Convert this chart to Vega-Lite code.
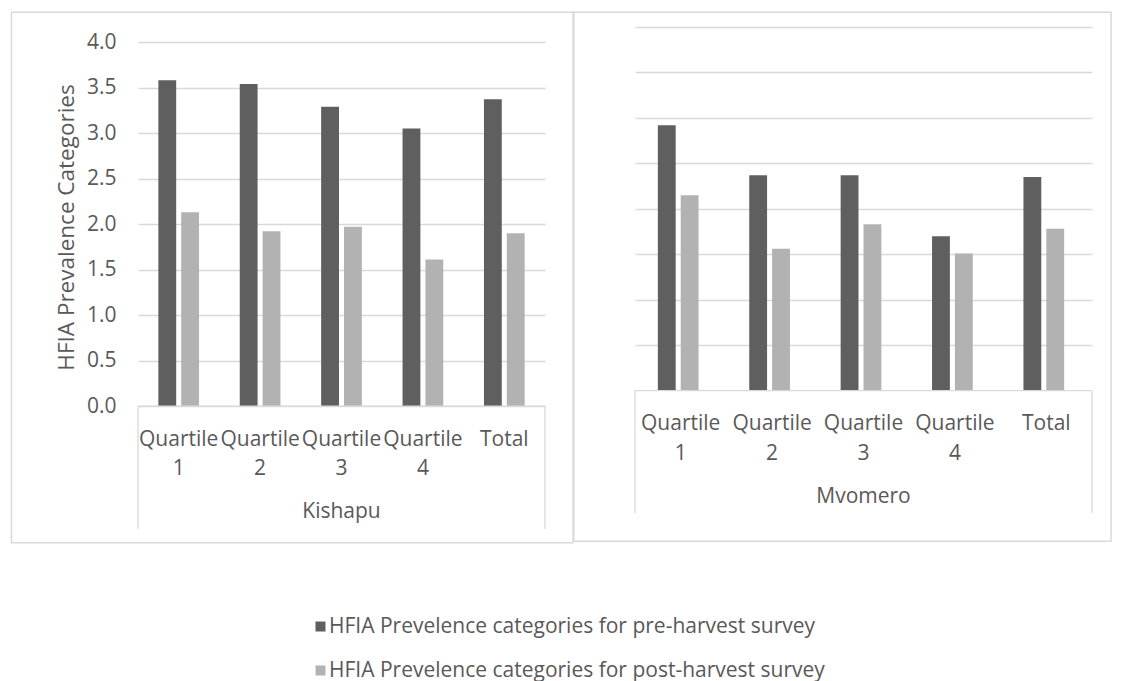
{
  "$schema": "https://vega.github.io/schema/vega-lite/v6.json",
  "background": "white",
  "autosize": {"type": "pad"},
  "padding": {"left": 10, "top": 11, "right": 10, "bottom": 4},
  "config": {
    "font": "Open Sans",
    "view": {"stroke": null},
    "axis": {"labelFont": "Open Sans", "titleFont": "Open Sans", "labelColor": "#595959", "titleColor": "#595959", "gridColor": "#d9d9d9", "gridWidth": 1.3},
    "text": {"font": "Open Sans", "color": "#595959", "fontSize": 21},
    "legend": {
      "orient": "none", "legendX": 172, "legendY": 589, "title": null,
      "symbolType": "square", "symbolSize": 100, "symbolStrokeWidth": 0,
      "labelFont": "Open Sans", "labelFontSize": 21, "labelColor": "#595959",
      "labelLimit": 800, "rowPadding": 22, "labelOffset": -2
    }
  },
  "datasets": {
    "hfia": [
      {"district": "Kishapu", "group": "Quartile 1", "survey": "HFIA Prevelence categories for pre-harvest survey", "value": 3.58},
      {"district": "Kishapu", "group": "Quartile 1", "survey": "HFIA Prevelence categories for post-harvest survey", "value": 2.13},
      {"district": "Kishapu", "group": "Quartile 2", "survey": "HFIA Prevelence categories for pre-harvest survey", "value": 3.54},
      {"district": "Kishapu", "group": "Quartile 2", "survey": "HFIA Prevelence categories for post-harvest survey", "value": 1.92},
      {"district": "Kishapu", "group": "Quartile 3", "survey": "HFIA Prevelence categories for pre-harvest survey", "value": 3.29},
      {"district": "Kishapu", "group": "Quartile 3", "survey": "HFIA Prevelence categories for post-harvest survey", "value": 1.97},
      {"district": "Kishapu", "group": "Quartile 4", "survey": "HFIA Prevelence categories for pre-harvest survey", "value": 3.05},
      {"district": "Kishapu", "group": "Quartile 4", "survey": "HFIA Prevelence categories for post-harvest survey", "value": 1.61},
      {"district": "Kishapu", "group": "Total", "survey": "HFIA Prevelence categories for pre-harvest survey", "value": 3.37},
      {"district": "Kishapu", "group": "Total", "survey": "HFIA Prevelence categories for post-harvest survey", "value": 1.90},
      {"district": "Mvomero", "group": "Quartile 1", "survey": "HFIA Prevelence categories for pre-harvest survey", "value": 2.92},
      {"district": "Mvomero", "group": "Quartile 1", "survey": "HFIA Prevelence categories for post-harvest survey", "value": 2.15},
      {"district": "Mvomero", "group": "Quartile 2", "survey": "HFIA Prevelence categories for pre-harvest survey", "value": 2.37},
      {"district": "Mvomero", "group": "Quartile 2", "survey": "HFIA Prevelence categories for post-harvest survey", "value": 1.56},
      {"district": "Mvomero", "group": "Quartile 3", "survey": "HFIA Prevelence categories for pre-harvest survey", "value": 2.37},
      {"district": "Mvomero", "group": "Quartile 3", "survey": "HFIA Prevelence categories for post-harvest survey", "value": 1.83},
      {"district": "Mvomero", "group": "Quartile 4", "survey": "HFIA Prevelence categories for pre-harvest survey", "value": 1.70},
      {"district": "Mvomero", "group": "Quartile 4", "survey": "HFIA Prevelence categories for post-harvest survey", "value": 1.51},
      {"district": "Mvomero", "group": "Total", "survey": "HFIA Prevelence categories for pre-harvest survey", "value": 2.35},
      {"district": "Mvomero", "group": "Total", "survey": "HFIA Prevelence categories for post-harvest survey", "value": 1.78}
    ]
  },
  "bounds": "flush",
  "spacing": 90,
  "hconcat": [
    {
      "width": 407,
      "height": 502,
      "data": {"name": "hfia"},
      "transform": [{"filter": "datum.district === 'Kishapu'"}],
      "resolve": {"scale": {"x": "independent"}},
      "layer": [
        {
          "data": {"values": [{}]},
          "mark": {"type": "rect", "filled": false, "color": "#d9d9d9", "strokeWidth": 1.5},
          "encoding": {
            "x": {"datum": -0.311, "type": "quantitative", "scale": {"domain": [0, 1]}, "axis": null},
            "x2": {"datum": 1.069},
            "y": {"datum": -1.5, "type": "quantitative"},
            "y2": {"datum": 4.327}
          }
        },
        {
          "mark": {"type": "bar"},
          "encoding": {
            "x": {"field": "group", "type": "nominal", "sort": ["Quartile 1", "Quartile 2", "Quartile 3", "Quartile 4", "Total"], "scale": {"paddingInner": 0.5, "paddingOuter": 0.25}, "axis": null},
            "xOffset": {"field": "survey", "type": "nominal", "sort": ["HFIA Prevelence categories for pre-harvest survey", "HFIA Prevelence categories for post-harvest survey"], "scale": {"paddingInner": 0.22}},
            "y": {
              "field": "value", "type": "quantitative",
              "scale": {"domain": [-1.35, 4.165], "nice": false, "zero": false},
              "axis": {
                "values": [0, 0.5, 1, 1.5, 2, 2.5, 3, 3.5, 4], "format": ".1f", "grid": true,
                "domain": false, "ticks": false, "labelFontSize": 21, "labelPadding": 22,
                "title": "HFIA Prevalence Categories", "titleFontSize": 22.5, "titleFontWeight": "normal",
                "titlePadding": 8, "titleY": 200
              }
            },
            "y2": {"datum": 0},
            "color": {
              "field": "survey", "type": "nominal",
              "sort": ["HFIA Prevelence categories for pre-harvest survey", "HFIA Prevelence categories for post-harvest survey"],
              "scale": {"domain": ["HFIA Prevelence categories for pre-harvest survey", "HFIA Prevelence categories for post-harvest survey"], "range": ["#5f5f5f", "#b2b2b2"]}
            }
          }
        },
        {
          "data": {"values": [{}]},
          "mark": {"type": "rule", "color": "#d9d9d9", "strokeWidth": 1.3},
          "encoding": {
            "x": {"datum": 0, "type": "quantitative", "scale": {"domain": [0, 1]}, "axis": null},
            "x2": {"datum": 1},
            "y": {"datum": 0, "type": "quantitative"}
          }
        },
        {
          "data": {"values": [{}]},
          "mark": {"type": "rule", "color": "#d9d9d9", "strokeWidth": 1.3},
          "encoding": {
            "x": {"datum": 0, "type": "quantitative", "scale": {"domain": [0, 1]}, "axis": null},
            "y": {"datum": 0, "type": "quantitative"},
            "y2": {"datum": -1.35}
          }
        },
        {
          "data": {"values": [{}]},
          "mark": {"type": "rule", "color": "#d9d9d9", "strokeWidth": 1.3},
          "encoding": {
            "x": {"datum": 1, "type": "quantitative", "scale": {"domain": [0, 1]}, "axis": null},
            "y": {"datum": 0, "type": "quantitative"},
            "y2": {"datum": -1.35}
          }
        },
        {
          "transform": [{"filter": "datum.survey === 'HFIA Prevelence categories for pre-harvest survey'"}],
          "mark": {"type": "text", "lineBreak": " ", "lineHeight": 29.5, "baseline": "alphabetic", "align": "center"},
          "encoding": {
            "x": {"field": "group", "type": "nominal", "sort": ["Quartile 1", "Quartile 2", "Quartile 3", "Quartile 4", "Total"], "scale": {"paddingInner": 0.5, "paddingOuter": 0.25}, "axis": null},
            "y": {"datum": -0.436, "type": "quantitative"},
            "text": {"field": "group"}
          }
        },
        {
          "transform": [{"filter": "datum.group === 'Total' && datum.survey === 'HFIA Prevelence categories for pre-harvest survey'"}],
          "mark": {"type": "text", "baseline": "alphabetic", "align": "center"},
          "encoding": {
            "x": {"datum": 0.5, "type": "quantitative", "scale": {"domain": [0, 1]}, "axis": null},
            "y": {"datum": -1.23, "type": "quantitative"},
            "text": {"field": "district"}
          }
        }
      ]
    },
    {
      "width": 457,
      "height": 486,
      "data": {"name": "hfia"},
      "transform": [{"filter": "datum.district === 'Mvomero'"}],
      "resolve": {"scale": {"x": "independent"}},
      "layer": [
        {
          "data": {"values": [{}]},
          "mark": {"type": "rect", "filled": false, "color": "#d9d9d9", "strokeWidth": 1.5},
          "encoding": {
            "x": {"datum": -0.134, "type": "quantitative", "scale": {"domain": [0, 1]}, "axis": null},
            "x2": {"datum": 1.0416},
            "y": {"datum": -1.657, "type": "quantitative"},
            "y2": {"datum": 4.1615}
          }
        },
        {
          "mark": {"type": "bar"},
          "encoding": {
            "x": {"field": "group", "type": "nominal", "sort": ["Quartile 1", "Quartile 2", "Quartile 3", "Quartile 4", "Total"], "scale": {"paddingInner": 0.5, "paddingOuter": 0.25}, "axis": null},
            "xOffset": {"field": "survey", "type": "nominal", "sort": ["HFIA Prevelence categories for pre-harvest survey", "HFIA Prevelence categories for post-harvest survey"], "scale": {"paddingInner": 0.22}},
            "y": {
              "field": "value", "type": "quantitative",
              "scale": {"domain": [-1.345, 4.0], "nice": false, "zero": false},
              "axis": {
                "values": [0.5, 1, 1.5, 2, 2.5, 3, 3.5, 4], "grid": true,
                "domain": false, "ticks": false, "labels": false, "title": null
              }
            },
            "y2": {"datum": 0},
            "color": {
              "field": "survey", "type": "nominal",
              "sort": ["HFIA Prevelence categories for pre-harvest survey", "HFIA Prevelence categories for post-harvest survey"],
              "scale": {"domain": ["HFIA Prevelence categories for pre-harvest survey", "HFIA Prevelence categories for post-harvest survey"], "range": ["#5f5f5f", "#b2b2b2"]}
            }
          }
        },
        {
          "data": {"values": [{}]},
          "mark": {"type": "rule", "color": "#d9d9d9", "strokeWidth": 1.3},
          "encoding": {
            "x": {"datum": 0, "type": "quantitative", "scale": {"domain": [0, 1]}, "axis": null},
            "x2": {"datum": 1},
            "y": {"datum": 0, "type": "quantitative"}
          }
        },
        {
          "data": {"values": [{}]},
          "mark": {"type": "rule", "color": "#d9d9d9", "strokeWidth": 1.3},
          "encoding": {
            "x": {"datum": 0, "type": "quantitative", "scale": {"domain": [0, 1]}, "axis": null},
            "y": {"datum": 0, "type": "quantitative"},
            "y2": {"datum": -1.345}
          }
        },
        {
          "data": {"values": [{}]},
          "mark": {"type": "rule", "color": "#d9d9d9", "strokeWidth": 1.3},
          "encoding": {
            "x": {"datum": 1, "type": "quantitative", "scale": {"domain": [0, 1]}, "axis": null},
            "y": {"datum": 0, "type": "quantitative"},
            "y2": {"datum": -1.345}
          }
        },
        {
          "transform": [{"filter": "datum.survey === 'HFIA Prevelence categories for pre-harvest survey'"}],
          "mark": {"type": "text", "lineBreak": " ", "lineHeight": 29.5, "baseline": "alphabetic", "align": "center"},
          "encoding": {
            "x": {"field": "group", "type": "nominal", "sort": ["Quartile 1", "Quartile 2", "Quartile 3", "Quartile 4", "Total"], "scale": {"paddingInner": 0.5, "paddingOuter": 0.25}, "axis": null},
            "y": {"datum": -0.436, "type": "quantitative"},
            "text": {"field": "group"}
          }
        },
        {
          "transform": [{"filter": "datum.group === 'Total' && datum.survey === 'HFIA Prevelence categories for pre-harvest survey'"}],
          "mark": {"type": "text", "baseline": "alphabetic", "align": "center"},
          "encoding": {
            "x": {"datum": 0.5, "type": "quantitative", "scale": {"domain": [0, 1]}, "axis": null},
            "y": {"datum": -1.23, "type": "quantitative"},
            "text": {"field": "district"}
          }
        }
      ]
    }
  ]
}
